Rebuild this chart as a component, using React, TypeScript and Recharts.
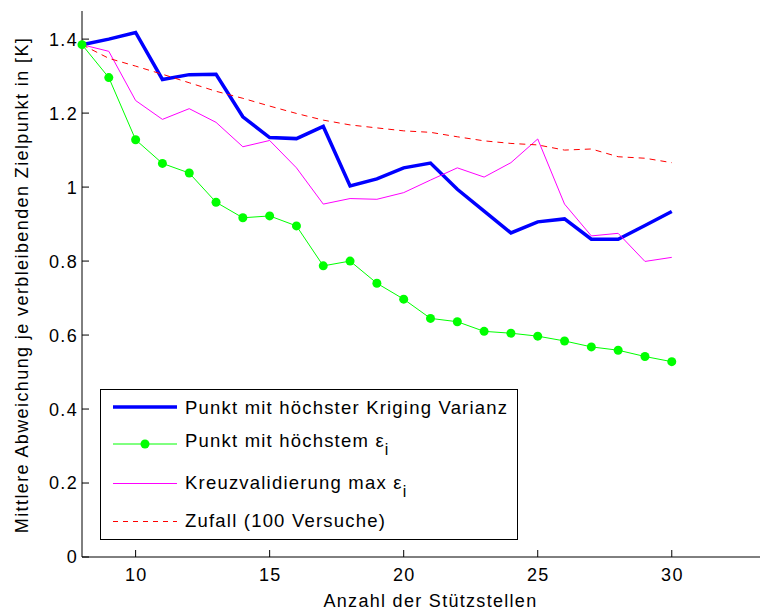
import React from 'react';
import { LineChart, Line, XAxis, YAxis, Legend, Label } from 'recharts';

const xValues = [8, 9, 10, 11, 12, 13, 14, 15, 16, 17, 18, 19, 20, 21, 22, 23, 24, 25, 26, 27, 28, 29, 30];
const krigingVarianz = [1.385, 1.4, 1.418, 1.291, 1.304, 1.305, 1.19, 1.134, 1.131, 1.164, 1.003, 1.022, 1.052, 1.065, 0.994, 0.935, 0.876, 0.906, 0.914, 0.859, 0.859, 0.896, 0.934];
const hoechstemEps = [1.385, 1.296, 1.128, 1.064, 1.038, 0.959, 0.917, 0.922, 0.895, 0.787, 0.8, 0.74, 0.697, 0.645, 0.636, 0.61, 0.605, 0.597, 0.584, 0.568, 0.559, 0.542, 0.528];
const kreuzvalidierung = [1.385, 1.367, 1.234, 1.183, 1.212, 1.175, 1.109, 1.126, 1.052, 0.954, 0.969, 0.967, 0.985, 1.019, 1.052, 1.027, 1.066, 1.13, 0.954, 0.868, 0.875, 0.799, 0.81];
const zufall = [1.385, 1.348, 1.327, 1.305, 1.282, 1.259, 1.24, 1.219, 1.199, 1.181, 1.168, 1.16, 1.152, 1.148, 1.136, 1.125, 1.118, 1.114, 1.1, 1.103, 1.082, 1.078, 1.066];

const xTicks = [10, 15, 20, 25, 30];
const yTicks = [0, 0.2, 0.4, 0.6, 0.8, 1, 1.2, 1.4];

const xLabel = 'Anzahl der Stützstellen';
const yLabel = 'Mittlere Abweichung je verbleibenden Zielpunkt in [K]';
const legendKriging = 'Punkt mit höchster Kriging Varianz';
const legendHoechstem = 'Punkt mit höchstem ';
const legendKreuz = 'Kreuzvalidierung max ';
const legendZufall = 'Zufall (100 Versuche)';

const data = xValues.map((x, i) => ({
  x,
  kriging: krigingVarianz[i],
  hoechstem: hoechstemEps[i],
  kreuz: kreuzvalidierung[i],
  zufall: zufall[i],
}));

const FONT = 'Arial, "Liberation Sans", Helvetica, sans-serif';
const FS = 18;
const LS = 1.3;

const BottomTick = (props: any) => {
  const { x, y, payload } = props;
  return (
    <g>
      <line x1={x} x2={x} y1={y} y2={y - 7} stroke="#000" strokeWidth={1} />
      <text x={x + LS / 2} y={y + 24} textAnchor="middle" fontFamily={FONT} fontSize={FS} letterSpacing={LS} fill="#000">
        {payload.value}
      </text>
    </g>
  );
};

const TopTick = (props: any) => {
  const { x, y } = props;
  return <line x1={x} x2={x} y1={y} y2={y + 7} stroke="#000" strokeWidth={1} />;
};

const LeftTick = (props: any) => {
  const { x, y, payload } = props;
  return (
    <g>
      <line x1={x} x2={x + 7} y1={y} y2={y} stroke="#000" strokeWidth={1} />
      <text x={x - 4} y={y} dy="0.36em" textAnchor="end" fontFamily={FONT} fontSize={FS} letterSpacing={LS} fill="#000">
        {String(payload.value)}
      </text>
    </g>
  );
};

const YLabelContent = () => {
  const cx = 14;
  const cy = 277;
  return (
    <text x={cx} y={cy} transform={`rotate(-90 ${cx} ${cy})`} textAnchor="middle" dominantBaseline="central" fontFamily={FONT} fontSize={18} letterSpacing={1.4} fill="#000">
      {yLabel}
    </text>
  );
};

const XLabelContent = (props: any) => {
  const vb = props.viewBox || { x: 74, y: 549, width: 697, height: 53 };
  const cx = vb.x + vb.width / 2;
  return (
    <text x={cx} y={vb.y + 50} textAnchor="middle" fontFamily={FONT} fontSize={FS} letterSpacing={LS} fill="#000">
      {xLabel}
    </text>
  );
};

const LegendContent = () => {
  const tProps = { fontFamily: FONT, fontSize: 18.5, letterSpacing: 1.2, fill: '#000' } as any;
  return (
    <svg width={418} height={151} style={{ display: 'block' }}>
      <rect x={0.5} y={0.5} width={417} height={150} fill="#fff" stroke="#000" strokeWidth={1} />
      <line x1={13} x2={77} y1={18} y2={18} stroke="#0000FF" strokeWidth={3.5} />
      <text x={85} y={25} {...tProps}>{legendKriging}</text>
      <line x1={13} x2={77} y1={55} y2={55} stroke="#00FF00" strokeWidth={1} />
      <circle cx={45} cy={55} r={4.5} fill="#00FF00" />
      <text x={85} y={58} {...tProps}>
        {legendHoechstem}
        <tspan>ε</tspan>
        <tspan dy={8} fontSize={16}>i</tspan>
      </text>
      <line x1={13} x2={77} y1={94.5} y2={94.5} stroke="#FF00FF" strokeWidth={1} />
      <text x={85} y={100} {...tProps}>
        {legendKreuz}
        <tspan>ε</tspan>
        <tspan dy={8} fontSize={16}>i</tspan>
      </text>
      <line x1={13} x2={77} y1={132.5} y2={132.5} stroke="#FF0000" strokeWidth={1} strokeDasharray="5 5" />
      <text x={85} y={138} {...tProps}>{legendZufall}</text>
    </svg>
  );
};

export default function App() {
  return (
    <div style={{ width: 760, height: 602, overflow: 'hidden', position: 'relative', background: '#fff' }}>
      <LineChart width={780} height={602} data={data} margin={{ top: 3, right: 9, bottom: 0, left: 0 }}>
        <XAxis
          xAxisId="top"
          orientation="top"
          dataKey="x"
          type="number"
          domain={[8, 34]}
          ticks={xTicks}
          interval={0}
          height={0}
          tickSize={0}
          tickMargin={0}
          tickLine={false}
          tick={TopTick}
          axisLine={{ stroke: '#000', strokeWidth: 1 }}
        />
        <XAxis
          xAxisId="bottom"
          orientation="bottom"
          dataKey="x"
          type="number"
          domain={[8, 34]}
          ticks={xTicks}
          interval={0}
          height={53}
          tickSize={0}
          tickMargin={0}
          tickLine={false}
          tick={BottomTick}
          axisLine={{ stroke: '#000', strokeWidth: 1 }}
        >
          <Label content={XLabelContent} />
        </XAxis>
        <YAxis
          yAxisId="left"
          type="number"
          domain={[0, 1.476]}
          ticks={yTicks}
          interval={0}
          width={74}
          tickSize={0}
          tickMargin={0}
          tickLine={false}
          tick={LeftTick}
          axisLine={{ stroke: '#000', strokeWidth: 1 }}
        >
          <Label content={YLabelContent} />
        </YAxis>
        <Legend
          layout="vertical"
          align="center"
          verticalAlign="middle"
          content={LegendContent}
          wrapperStyle={{ left: 92, top: 381, width: 418, height: 151 }}
        />
        <Line xAxisId="bottom" yAxisId="left" type="linear" dataKey="kriging" stroke="#0000FF" strokeWidth={3.5} dot={false} isAnimationActive={false} />
        <Line xAxisId="bottom" yAxisId="left" type="linear" dataKey="hoechstem" stroke="#00FF00" strokeWidth={1} dot={{ r: 4.5, fill: '#00FF00', stroke: '#00FF00', strokeWidth: 0 }} isAnimationActive={false} />
        <Line xAxisId="bottom" yAxisId="left" type="linear" dataKey="kreuz" stroke="#FF00FF" strokeWidth={1} dot={false} isAnimationActive={false} />
        <Line xAxisId="bottom" yAxisId="left" type="linear" dataKey="zufall" stroke="#FF0000" strokeWidth={1} strokeDasharray="6 5" dot={false} isAnimationActive={false} />
      </LineChart>
    </div>
  );
}
